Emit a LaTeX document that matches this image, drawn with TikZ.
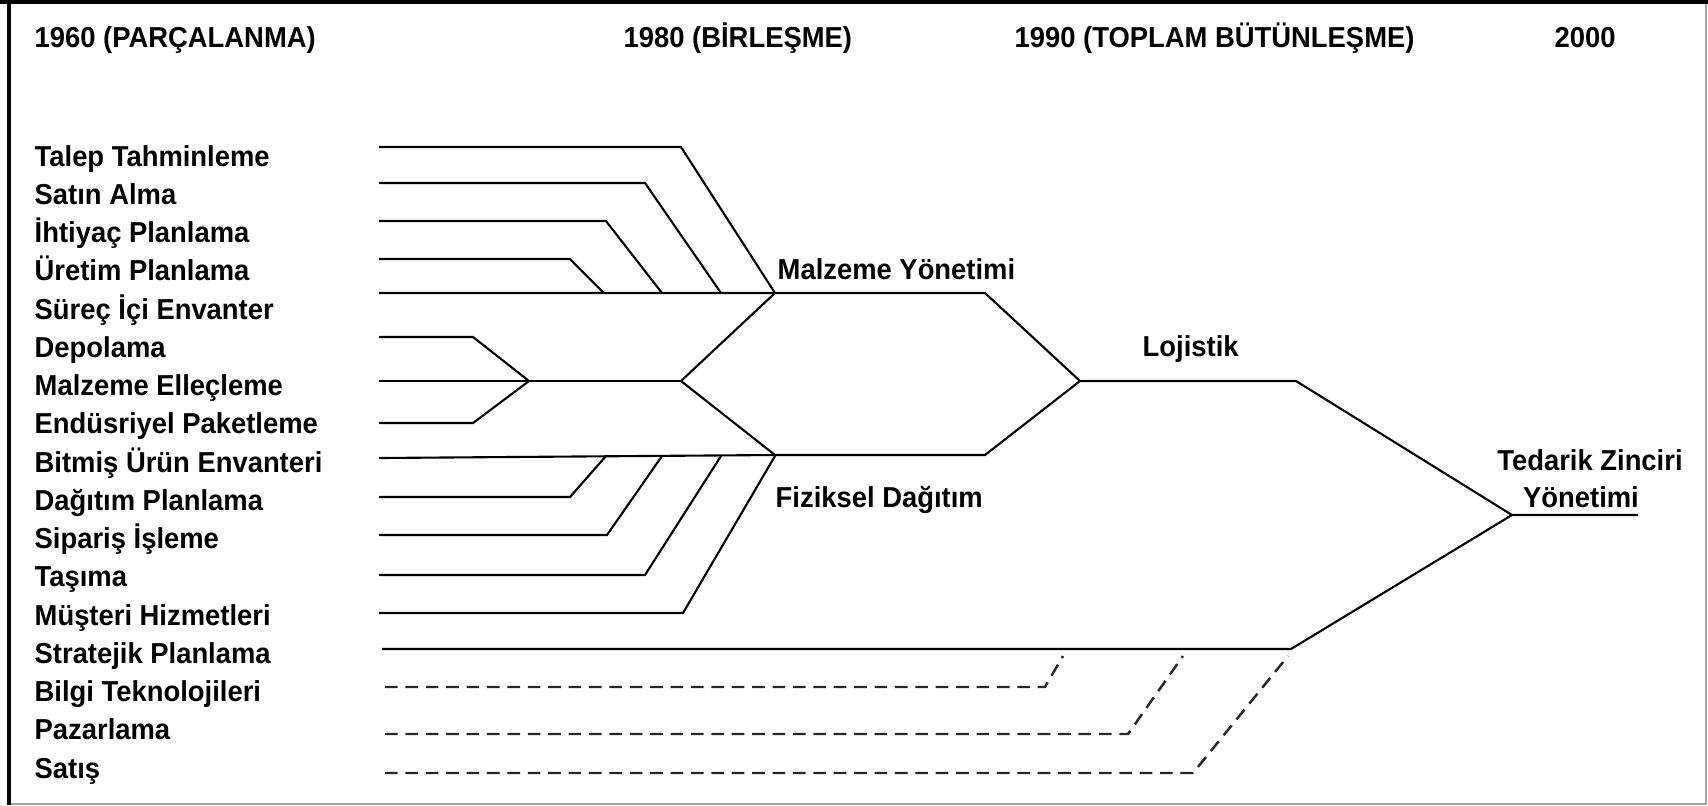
\documentclass[tikz,border=0pt]{standalone}
\usepackage{fontspec}
\setmainfont{Liberation Sans}[FakeStretch=0.95]
\usetikzlibrary{positioning}

\begin{document}
\begin{tikzpicture}[x=0.01cm, y=-0.01cm,
    lbl/.style={anchor=base west, inner sep=0pt, font=\fontsize{8.2}{10}\selectfont\bfseries},
    mid/.style={lbl, anchor=base},
    ln/.style={line width=0.6pt, black},
    dsh/.style={line width=0.7pt, black!85, dash pattern=on 3.6pt off 2.2pt}]
  \useasboundingbox (0,0) rectangle (1708,805);
  % frame
  \fill (0,0) rectangle (1708,4);
  \fill (7,0) rectangle (11,805);
  \draw[black!35, line width=0.8pt] (11,804) -- (1706,804) -- (1706,4);

  % periods
  \node[lbl] (t1960) at (34,47) {1960 (PARÇALANMA)};
  \node[lbl] (t1980) at (623,47) {1980 (BİRLEŞME)};
  \node[lbl] (t1990) at (1014,47) {1990 (TOPLAM BÜTÜNLEŞME)};
  \node[lbl] (t2000) at (1554,47) {2000};

  % activities
  \foreach \txt [count=\i from 0] in {Talep Tahminleme, Satın Alma, İhtiyaç Planlama,
      Üretim Planlama, Süreç İçi Envanter, Depolama, Malzeme Elleçleme,
      Endüsriyel Paketleme, Bitmiş Ürün Envanteri, Dağıtım Planlama, Sipariş İşleme,
      Taşıma, Müşteri Hizmetleri, Stratejik Planlama, Bilgi Teknolojileri, Pazarlama, Satış}
    \node[lbl] (act\i) at (34,{166+38.25*\i}) {\txt};

  % stages
  \node[lbl] (malz) at (777,279) {Malzeme Yönetimi};
  \node[lbl] (loj) at (1142,356) {Lojistik};
  \node[lbl] (fiz) at (775,507) {Fiziksel Dağıtım};
  \node[mid] (tzy1) at (1590,470) {Tedarik Zinciri};
  \node[mid] (tzy2) at (1581,507) {Yönetimi};

  % junctions
  \coordinate (hMY) at (775,293);
  \coordinate (eMY) at (985,293);
  \coordinate (hSpl) at (681,381);
  \coordinate (hDep) at (529,381);
  \coordinate (hFD) at (775,455);
  \coordinate (eFD) at (985,455);
  \coordinate (hLoj) at (1080,381);
  \coordinate (eLoj) at (1296,381);
  \coordinate (hTZY) at (1512,515);
  \coordinate (eTZY) at (1638,515);
  \coordinate (eStr) at (1291,649);

  % materials side
  \foreach \n/\y/\bx/\jx in {tal/147/681/775, sat/183/645/721, iht/221/606/662, ure/259/570/604} {
    \coordinate (\n-s) at (379,\y);
    \coordinate (\n-b) at (\bx,\y);
    \coordinate (\n-j) at (\jx,293);
    \draw[ln] (\n-s) -- (\n-b) -- (\n-j);
  }
  \coordinate (sur-s) at (379,293);
  \draw[ln] (sur-s) -- (hMY) -- (eMY) -- (hLoj) -- (eLoj) -- (hTZY) -- (eTZY);

  % warehousing
  \foreach \n/\y in {dep/337, end/423} {
    \coordinate (\n-s) at (379,\y);
    \coordinate (\n-b) at (473,\y);
    \draw[ln] (\n-s) -- (\n-b) -- (hDep);
  }
  \coordinate (mal-s) at (379,381);
  \draw[ln] (mal-s) -- (hDep) -- (hSpl);
  \draw[ln] (hMY) -- (hSpl) -- (hFD);

  % distribution side
  \coordinate (bit-s) at (379,458);
  \draw[ln] (bit-s) -- (hFD) -- (eFD) -- (hLoj);
  \foreach \n/\y/\bx/\jx in {dag/497/570/606, sip/535/607/662, tas/575/645/721, mus/613/683/775} {
    \coordinate (\n-s) at (379,\y);
    \coordinate (\n-b) at (\bx,\y);
    \coordinate (\n-j) at (\jx,456);
    \draw[ln] (\n-s) -- (\n-b) -- (\n-j);
  }

  % strategy and support
  \coordinate (str-s) at (382,649);
  \draw[ln] (str-s) -- (eStr) -- (hTZY);
  \foreach \n/\y/\bx/\jx in {bil/687/1045/1063, paz/734/1128/1183, sts/773/1193/1288} {
    \coordinate (\n-s) at (385,\y);
    \coordinate (\n-b) at (\bx,\y);
    \coordinate (\n-j) at (\jx,656);
    \draw[dsh] (\n-s) -- (\n-b) -- (\n-j);
  }
\end{tikzpicture}
\end{document}
